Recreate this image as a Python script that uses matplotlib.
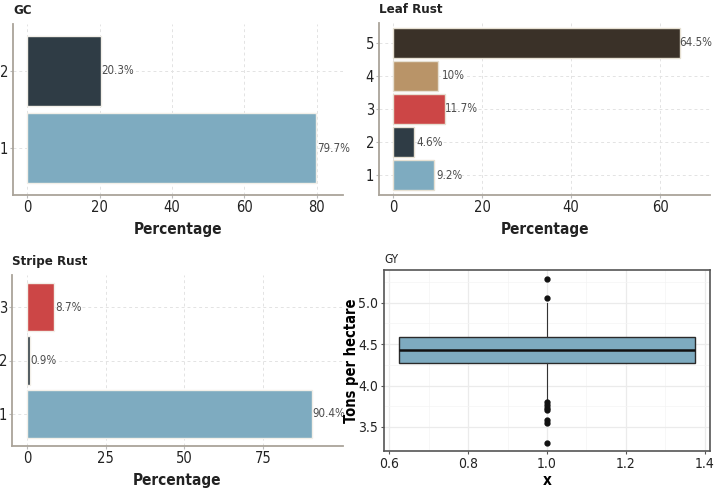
import numpy as np
import matplotlib.pyplot as plt

# reference text is narrow, so use the condensed DejaVu face
plt.rcParams['font.family'] = ['DejaVu Sans']
plt.rcParams['font.stretch'] = 'condensed'

# Data
gc_cats = [1, 2]
gc_vals = [79.7, 20.3]
gc_cols = ['#7eabc0', '#2f3c45']

lr_cats = [1, 2, 3, 4, 5]
lr_vals = [9.2, 4.6, 11.7, 10.0, 64.5]
lr_cols = ['#7eabc0', '#2f3c45', '#cc4646', '#b99468', '#3a3128']

sr_cats = [1, 2, 3]
sr_vals = [90.4, 0.9, 8.7]
sr_cols = ['#7eabc0', '#2f3c45', '#cc4646']

# GY box summary (tons per hectare)
gy_q1, gy_med, gy_q3 = 4.27, 4.43, 4.59
gy_whislo, gy_whishi = 3.81, 4.99
gy_fliers = [5.29, 5.06, 3.80, 3.77, 3.73, 3.70, 3.59, 3.55, 3.31]

W, H = 714, 493
fig = plt.figure(figsize=(W / 100, H / 100), dpi=100)


def px_axes(l, t, r, b):
    return fig.add_axes([l / W, 1 - b / H, (r - l) / W, (b - t) / H])


def bar_panel(ax, cats, vals, cols, title, xlim, xticks, centered=False, edge='#f2efe8'):
    ax.barh(cats, vals, height=0.9, color=cols, edgecolor=edge, linewidth=1, zorder=2)
    for c, v in zip(cats, vals):
        lab = f'{v:g}%'
        if centered:
            ax.annotate(lab, (v, c), xytext=(16, 0), textcoords='offset pixels',
                        ha='center', va='center', fontsize=8.3, color='#4d4d4d')
        else:
            ax.annotate(lab, (v, c), xytext=(1, 0), textcoords='offset pixels',
                        ha='left', va='center', fontsize=8.3, color='#4d4d4d')
    ax.set_xlim(*xlim)
    ax.set_ylim(0.4, len(cats) + 0.6)
    ax.set_xticks(xticks)
    ax.set_yticks(cats)
    ax.grid(True, linestyle=(0, (3, 3)), color='#e3e3e3', linewidth=0.7, zorder=0)
    ax.set_axisbelow(True)
    for s in ['top', 'right']:
        ax.spines[s].set_visible(False)
    for s in ['left', 'bottom']:
        ax.spines[s].set_color('#aaa49a')
        ax.spines[s].set_linewidth(1.3)
    ax.tick_params(length=2.5, width=0.8, color='#bbbbbb', labelsize=10.5, labelcolor='#222222', pad=1)
    ax.set_xlabel('Percentage', fontsize=11, fontweight='bold', labelpad=5, color='#222222')
    ax.set_title(title, loc='left', fontsize=9.5, fontweight='bold', pad=7, color='#222222')


ax1 = px_axes(13, 24, 343, 195)
bar_panel(ax1, gc_cats, gc_vals, gc_cols, 'GC', (-3.9, 87.2), [0, 20, 40, 60, 80])

ax2 = px_axes(379, 23, 710, 195)
bar_panel(ax2, lr_cats, lr_vals, lr_cols, 'Leaf Rust', (-3.15, 71.2), [0, 20, 40, 60],
          centered=True, edge='#e6e0d2')

ax3 = px_axes(12, 275, 343, 446)
bar_panel(ax3, sr_cats, sr_vals, sr_cols, 'Stripe Rust', (-4.77, 100.4), [0, 25, 50, 75])

# GY boxplot
ax4 = px_axes(384, 270, 710, 451)
stats = [dict(med=gy_med, q1=gy_q1, q3=gy_q3, whislo=gy_whislo, whishi=gy_whishi,
              fliers=gy_fliers)]
ax4.bxp(stats, positions=[1.0], widths=0.75, patch_artist=True, showcaps=False,
        boxprops=dict(facecolor='#7eabc0', edgecolor='#2a2a2a', linewidth=1),
        medianprops=dict(color='#111111', linewidth=1.8),
        whiskerprops=dict(color='#333333', linewidth=0.8),
        flierprops=dict(marker='o', markersize=3.5, markerfacecolor='#111111',
                        markeredgecolor='#111111'),
        manage_ticks=False, zorder=3)
ax4.set_xlim(0.5873, 1.4127)
ax4.set_ylim(3.21, 5.394)
ax4.set_xticks([0.6, 0.8, 1.0, 1.2, 1.4])
ax4.set_yticks([3.5, 4.0, 4.5, 5.0])
ax4.set_xticks([0.7, 0.9, 1.1, 1.3], minor=True)
ax4.set_yticks([3.75, 4.25, 4.75, 5.25], minor=True)
ax4.grid(True, which='major', color='#ebebeb', linewidth=0.9, zorder=0)
ax4.grid(True, which='minor', color='#f4f4f4', linewidth=0.5, zorder=0)
ax4.set_axisbelow(True)
for s in ax4.spines.values():
    s.set_color('#555555')
    s.set_linewidth(1.2)
ax4.tick_params(which='major', length=2.5, width=0.8, color='#555555', labelsize=10,
                labelcolor='#222222', pad=1.5)
ax4.tick_params(which='minor', length=0)
ax4.set_xlabel('x', fontsize=11, fontweight='bold', labelpad=2)
ax4.set_ylabel('Tons per hectare', fontsize=10.5, fontweight='bold')
ax4.yaxis.set_label_coords(-0.078, 0.5)
ax4.set_title('GY', loc='left', fontsize=8.5, pad=5, color='#222222')

fig.savefig('out.png', dpi=100)
